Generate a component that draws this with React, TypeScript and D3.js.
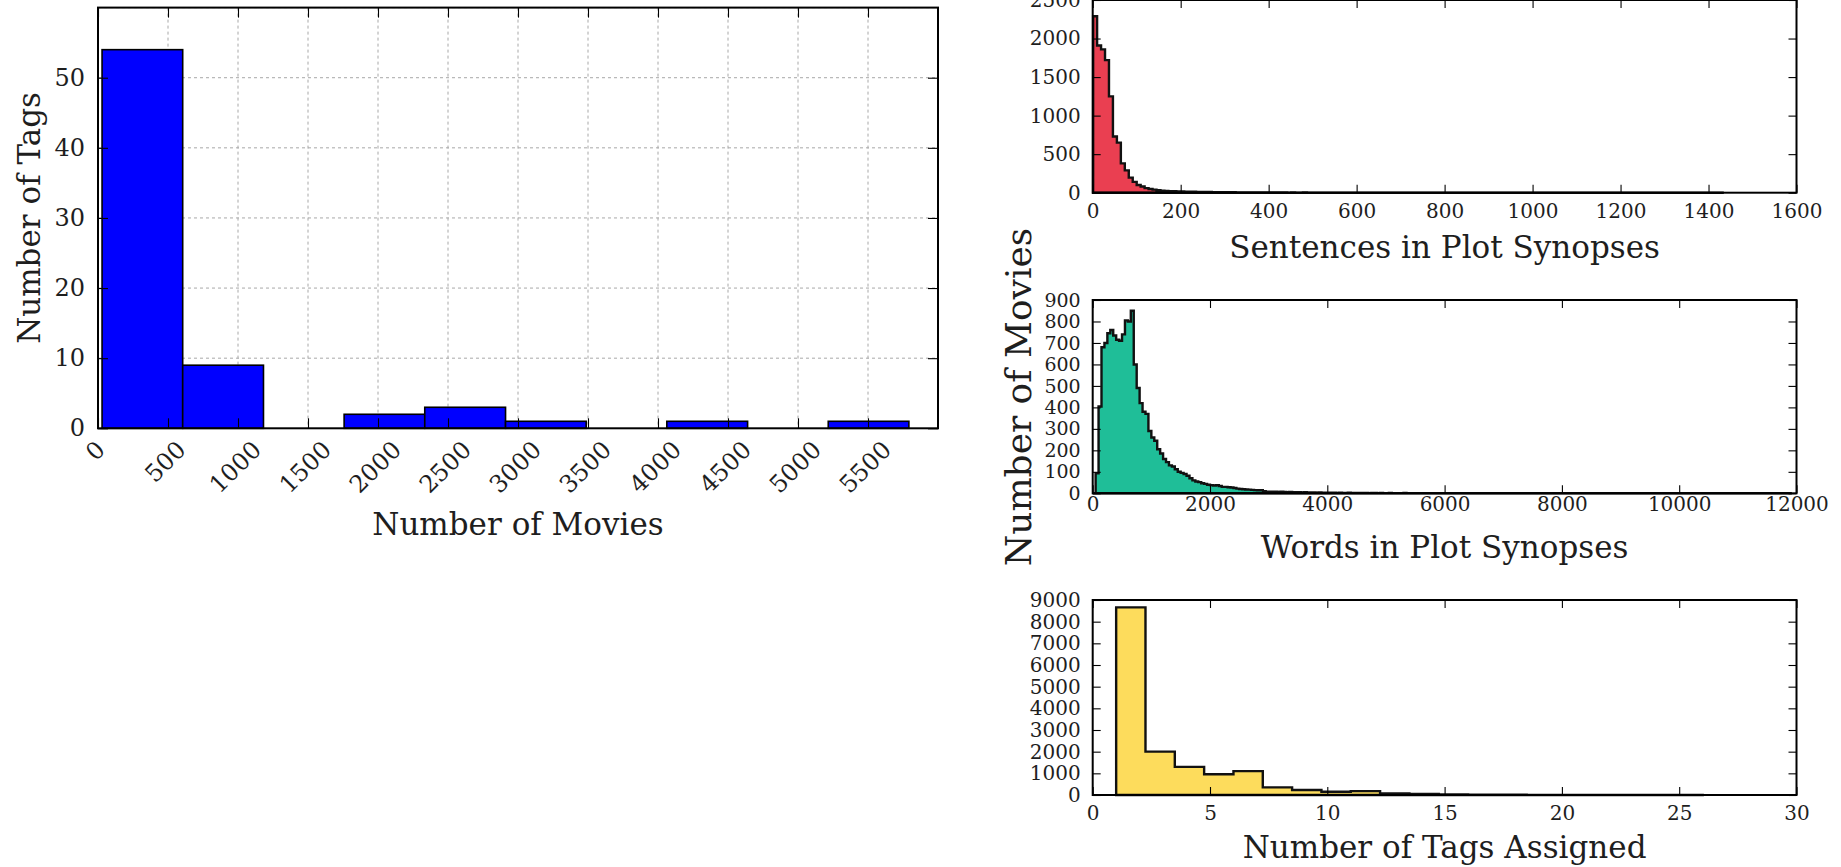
import React, { useEffect, useRef } from "react";
import * as d3 from "d3";

// ---- left: number of tags by number of movies carrying the tag ----
const tagBinEdges = [29, 605, 1182, 1758, 2334, 2911, 3487, 4063, 4640, 5216, 5792];
const tagCounts = [54, 9, 0, 2, 3, 1, 0, 1, 0, 1];
const movieTicks = [0, 500, 1000, 1500, 2000, 2500, 3000, 3500, 4000, 4500, 5000, 5500];
const tagTicks = [0, 10, 20, 30, 40, 50];

// ---- right top: sentences in plot synopses ----
const sentenceBinStart = 1;
const sentenceBinWidth = 9;
const sentenceCounts = [
  2290, 1910, 1860, 1720, 1250, 730, 650, 380, 290, 195,
  140, 100, 80, 60, 48, 40, 32, 27, 24, 20,
  18, 16, 15, 14, 13, 12, 11, 10, 10, 9,
  8, 7, 6, 6, 5, 5, 4, 4, 4, 3,
  3, 3, 3, 2, 2, 2, 2, 2, 2, 1, 2,
  1, 1, 2, 1, 1, 1, 1, 1, 1, 1,
  1, 0, 1, 1, 0, 1, 1, 0, 1, 0,
  1, 1, 0, 0, 1, 0, 1, 0, 0, 1,
  0, 1, 0, 0, 1, 0, 0, 1, 0, 0,
  1, 0, 0, 0, 1, 0, 0, 1, 0, 0,
  0, 1, 0, 0, 0, 1, 0, 0, 0, 1,
  0, 0, 0, 0, 1, 0, 0, 0, 1, 0,
  0, 0, 0, 1, 0, 0, 0, 0, 1, 0,
  0, 0, 0, 0, 0, 1, 0, 0, 0, 0,
  1, 0, 0, 0, 0, 0, 0, 1, 0, 0,
  0, 0, 0, 0, 1, 0, 0, 1,
];
const sentenceTicksX = [0, 200, 400, 600, 800, 1000, 1200, 1400, 1600];
const sentenceTicksY = [0, 500, 1000, 1500, 2000, 2500];

// ---- right middle: words in plot synopses ----
const wordBinStart = 0;
const wordBinWidth = 50;
const wordCounts = [
  0, 93, 404, 680, 700, 745, 760, 735, 715, 710,
  740, 805, 800, 850, 600, 490, 420, 380, 370, 290,
  260, 245, 205, 185, 160, 145, 130, 125, 112, 100,
  95, 90, 82, 70, 60, 55, 52, 47, 44, 40,
  38, 36, 38, 34, 30, 30, 28, 27, 25, 22,
  20, 19, 18, 17, 16, 15, 14, 15, 10, 8,
  8, 7, 7, 6, 7, 6, 5, 6, 5, 5,
  5, 4, 5, 4, 4, 4, 3, 4, 3, 3,
  3, 3, 3, 2, 3, 2, 2, 3, 2, 2,
  2, 2, 2, 2, 1, 2, 2, 1, 2, 1,
  1, 2, 1, 1, 1, 1, 2, 1, 1, 1,
  1, 1, 0, 1, 1, 1, 0, 1, 1, 0,
  1, 1, 0, 1, 0, 1, 1, 0, 1, 0,
  1, 0, 1, 0, 1, 0, 0, 1, 1, 0,
  0, 1, 0, 1, 0, 0, 1, 0, 1, 0,
  0, 1, 0, 0, 1, 0, 1, 0, 0, 1,
  0, 0, 1, 0, 0, 1, 0, 0, 1, 0,
  0, 1, 0, 0, 0, 1, 0, 0, 1, 0,
  0, 0, 1, 0, 0, 0, 1, 0, 0, 0,
  1, 0, 0, 0, 1, 0, 0, 0, 0, 1,
  0, 0, 0, 1, 0, 0, 0, 0, 1, 0,
  0, 0, 0, 0, 1, 0, 0, 0, 0, 0,
  1, 0, 0, 0, 0, 0, 1, 0, 0, 0,
  0, 0, 1, 0, 0, 0, 0, 1,
];
const wordTicksX = [0, 2000, 4000, 6000, 8000, 10000, 12000];
const wordTicksY = [0, 100, 200, 300, 400, 500, 600, 700, 800, 900];

// ---- right bottom: number of tags assigned per movie ----
const assignedBinStart = 1;
const assignedBinWidth = 1.25;
const assignedCounts = [8660, 2000, 1300, 960, 1100, 350, 230, 150, 180, 70, 45, 30, 18, 12, 8, 5, 3, 2, 1, 1];
const assignedTicksX = [0, 5, 10, 15, 20, 25, 30];
const assignedTicksY = [0, 1000, 2000, 3000, 4000, 5000, 6000, 7000, 8000, 9000];

const FONT = "'DejaVu Serif', serif";
const INK = "#1e1e1e";

type Box = { left: number; right: number; top: number; bottom: number };

function drawAxes(svg: any, box: Box, x: any, y: any, xTicks: number[], yTicks: number[], cfg: any) {
  const style = (g: any, fs: number) => {
    g.select(".domain").remove();
    g.attr("font-family", FONT).attr("font-size", fs);
    g.selectAll("line").attr("stroke", "#000").attr("stroke-width", 1.1);
    g.selectAll("text").attr("fill", INK);
  };

  const gb = svg.append("g")
    .attr("transform", "translate(0," + box.bottom + ")")
    .call(d3.axisBottom(x).tickValues(xTicks).tickSize(-cfg.tick).tickPadding(cfg.xPad).tickFormat(d3.format("d")));
  style(gb, cfg.xFont);

  const gt = svg.append("g")
    .attr("transform", "translate(0," + box.top + ")")
    .call(d3.axisTop(x).tickValues(xTicks).tickSize(-cfg.tick).tickFormat(() => ""));
  style(gt, cfg.xFont);

  const gl = svg.append("g")
    .attr("transform", "translate(" + box.left + ",0)")
    .call(d3.axisLeft(y).tickValues(yTicks).tickSize(-cfg.tick).tickPadding(cfg.yPad).tickFormat(d3.format("d")));
  style(gl, cfg.yFont);

  const gr = svg.append("g")
    .attr("transform", "translate(" + box.right + ",0)")
    .call(d3.axisRight(y).tickValues(yTicks).tickSize(-cfg.tick).tickFormat(() => ""));
  style(gr, cfg.yFont);

  svg.append("rect")
    .attr("x", box.left).attr("y", box.top)
    .attr("width", box.right - box.left).attr("height", box.bottom - box.top)
    .attr("fill", "none").attr("stroke", "#000").attr("stroke-width", cfg.frame);

  return gb;
}

function drawStepHist(svg: any, box: Box, xDomain: number[], yDomain: number[], start: number, width: number,
  counts: number[], color: string, xTicks: number[], yTicks: number[], xPad: number, yFont: number) {
  const x = d3.scaleLinear().domain(xDomain).range([box.left, box.right]);
  const y = d3.scaleLinear().domain(yDomain).range([box.bottom, box.top]);

  const pts: [number, number][] = [[x(start), y(0)]];
  counts.forEach((c, i) => {
    pts.push([x(start + i * width), y(c)]);
    pts.push([x(start + (i + 1) * width), y(c)]);
  });
  pts.push([x(start + counts.length * width), y(0)]);

  svg.append("path")
    .attr("d", d3.line()(pts) + "Z")
    .attr("fill", color)
    .attr("stroke", "#111")
    .attr("stroke-width", 2.4)
    .attr("stroke-linejoin", "miter");

  drawAxes(svg, box, x, y, xTicks, yTicks, { tick: 8, xPad, yPad: 12, xFont: 20, yFont, frame: 2 });
}

function drawChart(node: SVGSVGElement) {
  const svg = d3.select(node);
  svg.selectAll("*").remove();

  // left histogram (bar style)
  const lb: Box = { left: 98, right: 938, top: 7.6, bottom: 428.3 };
  const x = d3.scaleLinear().domain([0, 6000]).range([lb.left, lb.right]);
  const y = d3.scaleLinear().domain([0, 60]).range([lb.bottom, lb.top]);

  const grid = svg.append("g")
    .attr("stroke", "#a8a8a8").attr("stroke-width", 1).attr("stroke-dasharray", "3,3");
  grid.selectAll("line.v").data(movieTicks.slice(1)).enter().append("line")
    .attr("x1", (d) => x(d)).attr("x2", (d) => x(d)).attr("y1", lb.top).attr("y2", lb.bottom);
  grid.selectAll("line.h").data(tagTicks.slice(1).concat([60])).enter().append("line")
    .attr("x1", lb.left).attr("x2", lb.right).attr("y1", (d) => y(d)).attr("y2", (d) => y(d));

  svg.append("g").selectAll("rect")
    .data(tagCounts.map((c, i) => ({ c, x0: tagBinEdges[i], x1: tagBinEdges[i + 1] })).filter((d) => d.c > 0))
    .enter().append("rect")
    .attr("x", (d) => x(d.x0)).attr("width", (d) => x(d.x1) - x(d.x0))
    .attr("y", (d) => y(d.c)).attr("height", (d) => y(0) - y(d.c))
    .attr("fill", "#0000ff").attr("stroke", "#000").attr("stroke-width", 1.6);

  const tickFs = 24;
  const gb = drawAxes(svg, lb, x, y, movieTicks, tagTicks, { tick: 10, xPad: 0, yPad: 13, xFont: tickFs, yFont: tickFs, frame: 2 });
  // rotated tick labels, bbox top-centred under the tick
  gb.selectAll("text").each(function (this: any, d: any) {
    const s = String(d);
    const w = s.length * 0.636 * tickFs;
    const h = 0.75 * tickFs;
    const cy = 11 + (w + h) / (2 * Math.SQRT2);
    d3.select(this)
      .attr("y", null).attr("dy", null)
      .attr("text-anchor", "middle").attr("dominant-baseline", "central")
      .attr("transform", "translate(-3," + cy + ") rotate(-45)");
  });

  svg.append("text").text("Number of Movies")
    .attr("x", (lb.left + lb.right) / 2).attr("y", 535)
    .attr("text-anchor", "middle").attr("font-size", 31).attr("font-family", FONT).attr("fill", INK);
  svg.append("text").text("Number of Tags")
    .attr("transform", "translate(40," + (lb.top + lb.bottom) / 2 + ") rotate(-90)")
    .attr("text-anchor", "middle").attr("font-size", 31).attr("font-family", FONT).attr("fill", INK);

  // right column of step histograms
  const L = 1092.7, R = 1796.5;
  drawStepHist(svg, { left: L, right: R, top: 0, bottom: 192.7 }, [0, 1600], [0, 2500],
    sentenceBinStart, sentenceBinWidth, sentenceCounts, "#ea3f51", sentenceTicksX, sentenceTicksY, 11.5, 20);
  drawStepHist(svg, { left: L, right: R, top: 300, bottom: 493.3 }, [0, 12000], [0, 900],
    wordBinStart, wordBinWidth, wordCounts, "#1fbe98", wordTicksX, wordTicksY, 3, 19);
  drawStepHist(svg, { left: L, right: R, top: 600, bottom: 795 }, [0, 30], [0, 9000],
    assignedBinStart, assignedBinWidth, assignedCounts, "#fddc5c", assignedTicksX, assignedTicksY, 10.5, 20);

  const mid = (L + R) / 2;
  [["Sentences in Plot Synopses", 258], ["Words in Plot Synopses", 558], ["Number of Tags Assigned", 858]].forEach(([t, yy]) => {
    svg.append("text").text(t as string).attr("x", mid).attr("y", yy as number)
      .attr("text-anchor", "middle").attr("font-size", 31).attr("font-family", FONT).attr("fill", INK);
  });
  svg.append("text").text("Number of Movies")
    .attr("transform", "translate(1031,397) rotate(-90)")
    .attr("text-anchor", "middle").attr("font-size", 36).attr("font-family", FONT).attr("fill", INK);
}

export default function App() {
  const ref = useRef<SVGSVGElement>(null);
  useEffect(() => {
    if (ref.current) drawChart(ref.current);
  }, []);
  return (
    <svg
      ref={ref}
      width={1841}
      height={867}
      style={{ position: "absolute", left: 0, top: 0, background: "#fff" }}
    />
  );
}
